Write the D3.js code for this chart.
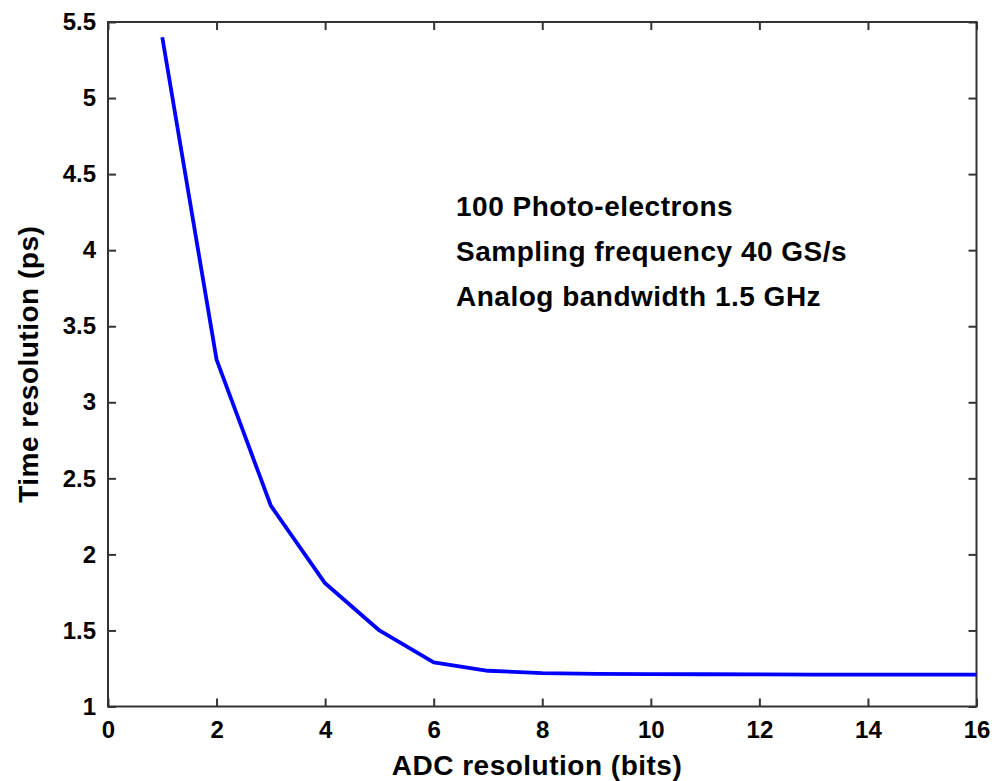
<!DOCTYPE html>
<html><head><meta charset="utf-8">
<script src="https://cdn.jsdelivr.net/npm/d3@7"></script>
<style>body{margin:0;background:#fff;} text{font-family:"Liberation Sans",Arial,sans-serif;font-weight:bold;}</style>
</head><body><svg id="c" width="994" height="781"></svg>
<script>
const adcBits = [1,2,3,4,5,6,7,8,9,10,11,12,13,14,15,16];
const timeRes = [5.40,3.28,2.32,1.81,1.50,1.29,1.235,1.22,1.215,1.213,1.212,1.211,1.21,1.21,1.21,1.21];
const xTicks = [0,2,4,6,8,10,12,14,16];
const yTicks = [1,1.5,2,2.5,3,3.5,4,4.5,5,5.5];
const notes = ["100 Photo-electrons","Sampling frequency 40 GS/s","Analog bandwidth 1.5 GHz"];

const svg = d3.select("#c");
const L=108, R=976.5, T=22, B=706.5;
const x = d3.scaleLinear().domain([0,16]).range([L,R]);
const y = d3.scaleLinear().domain([1,5.5]).range([B,T]);
const fs = 24, fb = 28;

const ax = svg.append("g").attr("transform",`translate(0,${B})`)
  .call(d3.axisBottom(x).tickValues(xTicks).tickSizeInner(-8).tickSizeOuter(0).tickPadding(14).tickFormat(d3.format("d")));
const axT = svg.append("g").attr("transform",`translate(0,${T})`)
  .call(d3.axisTop(x).tickValues(xTicks).tickSizeInner(-8).tickSizeOuter(0).tickFormat(""));
const ay = svg.append("g").attr("transform",`translate(${L},0)`)
  .call(d3.axisLeft(y).tickValues(yTicks).tickSizeInner(-8).tickSizeOuter(0).tickPadding(12).tickFormat(d=>d3.format("")(d)));
const ayR = svg.append("g").attr("transform",`translate(${R},0)`)
  .call(d3.axisRight(y).tickValues(yTicks).tickSizeInner(-8).tickSizeOuter(0).tickFormat(""));
[ax,axT,ay,ayR].forEach(g=>{
  g.select(".domain").remove();
  g.selectAll("line").attr("stroke","#333").attr("stroke-width",2);
  g.selectAll("text").attr("fill","#000").style("font-size",fs+"px").style("font-family",'"Liberation Sans",Arial,sans-serif').style("font-weight","bold");
});
ax.selectAll("text").attr("dy","0.71em");
svg.append("rect").attr("x",L).attr("y",T).attr("width",R-L).attr("height",B-T)
  .attr("fill","none").attr("stroke","#333").attr("stroke-width",2);

svg.append("path").datum(adcBits.map((b,i)=>[b,timeRes[i]]))
  .attr("fill","none").attr("stroke","#0000ff").attr("stroke-width",3.8)
  .attr("stroke-linejoin","round")
  .attr("d",d3.line().x(d=>x(d[0])).y(d=>y(d[1])));

svg.append("text").attr("x",537).attr("y",775).attr("text-anchor","middle")
  .style("font-size",fb+"px").style("letter-spacing","0.5px").text("ADC resolution (bits)");
svg.append("text").attr("transform",`translate(38,${(T+B)/2}) rotate(-90)`).attr("text-anchor","middle")
  .style("font-size",fb+"px").style("letter-spacing","0.5px").text("Time resolution (ps)");

svg.append("g").selectAll("text").data(notes).join("text")
  .attr("x",456).attr("y",(d,i)=>216+i*45)
  .style("font-size",fb+"px").style("letter-spacing","0.5px").text(d=>d);
</script></body></html>
